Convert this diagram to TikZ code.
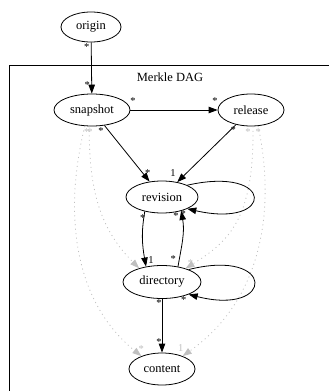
\documentclass[tikz,border=0pt]{standalone}
\usepackage{fontspec}
\setmainfont{Liberation Serif}
\usetikzlibrary{arrows.meta, shapes.geometric}

\begin{document}
\begin{tikzpicture}[
    x=1pt, y=-1pt,
    font=\fontsize{12.5}{14}\selectfont,
    obj/.style={ellipse, draw, line width=0.8pt, inner sep=0pt},
    link/.style={line width=0.8pt, -{Triangle[length=9pt, width=6.5pt]}},
    weak/.style={link, lightgray, dash pattern=on 1pt off 3.5pt},
    card/.style={inner sep=0pt, font=\fontsize{10.5}{12}\selectfont},
    weakcard/.style={card, lightgray}
]
\useasboundingbox (0,0) rectangle (329,391);

% Cluster frame
\draw[line width=0.8pt] (329,65) -- (9,65) -- (9,391);
\node (dagtitle) at (170,77) {Merkle DAG};

% Objects
\node[obj, minimum width=60pt, minimum height=30pt] (origin) at (91,27) {origin};
\node[obj, minimum width=76pt, minimum height=32pt] (snapshot) at (92,110) {snapshot};
\node[obj, minimum width=66pt, minimum height=32pt] (release) at (251,110) {release};
\node[obj, minimum width=72pt, minimum height=32pt] (revision) at (162,197) {revision};
\node[obj, minimum width=78pt, minimum height=33pt] (directory) at (162,282) {directory};
\node[obj, minimum width=66pt, minimum height=32pt] (content) at (162,369) {content};

% ==========================================
% Weak links (dotted, grey)
\draw[weak] (snapshot.-114) .. controls (64,210) and (72,300) .. (content.148)
    node[weakcard, pos=0, below=2pt, xshift=2pt] (sc1) {*}
    node[weakcard, pos=1, above=3pt] (sc2) {*};
\draw[weak] (snapshot.-100) to[out=-90, in=135]
    node[weakcard, pos=0, below=2pt, xshift=1pt] (sd1) {*} (directory.149);
\draw[weak] (release.-83) .. controls (254,215) and (232,240) .. (directory.30)
    node[weakcard, pos=0, below left=2pt] (rd1) {*}
    node[weakcard, pos=1, above right=2pt] (rd2) {*};
\draw[weak] (release.-66) .. controls (276,210) and (262,300) .. (content.32)
    node[weakcard, pos=0, below=2pt] (rc1) {*}
    node[weakcard, pos=1, above=4pt, xshift=-2pt] (rc2) {1};

% ==========================================
% Links
\draw[link] (origin) -- (snapshot)
    node[card, pos=.1, left=1.5pt] (os1) {*}
    node[card, pos=.83, left=1.5pt] (os2) {*};
\draw[link] (snapshot) -- (release)
    node[card, pos=.03, above=5pt] (sr1) {*}
    node[card, pos=.97, above=5pt] (sr2) {*};
\draw[link] (snapshot) -- (revision)
    node[card, pos=.1, left=5pt] (sv1) {*}
    node[card, pos=.85, right=2pt] (sv2) {*};
\draw[link] (release) -- (revision)
    node[card, pos=.1, right=0pt] (rv1) {*}
    node[card, pos=.85, left=10pt] (rv2) {1};

% revision <-> directory
\draw[link] (revision.220) to[out=-100, in=100]
    node[card, pos=.1, xshift=-1pt] (vd1) {*}
    node[card, pos=.9, right=3pt] (vd2) {1} (directory.136);
\draw[link] (directory.44) to[out=80, in=-80]
    node[card, pos=.12, left=3pt] (dv1) {*}
    node[card, pos=.92, left=3pt] (dv2) {*} (revision.-36);

% Self loops
\draw[link] (revision.25) .. controls +(88,-20) and +(88,20) .. (revision.-25)
    node[card, pos=1, below left=1pt] (vv1) {*};
\draw[link] (directory.25) .. controls +(87,-22) and +(87,22) .. (directory.-25)
    node[card, pos=1, below left=2pt] (dd1) {*};

\draw[link] (directory) -- (content)
    node[card, pos=.07, left=0pt] (dc1) {*}
    node[card, pos=.8, left=0pt] (dc2) {*};

\end{tikzpicture}
\end{document}
